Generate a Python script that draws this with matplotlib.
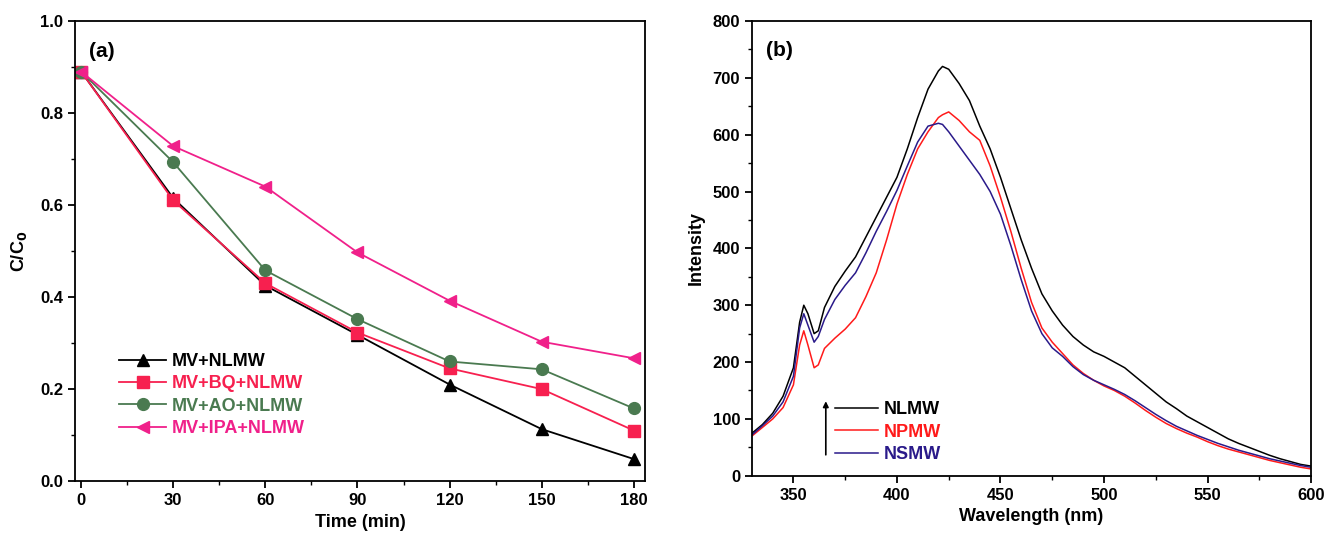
import matplotlib.pyplot as plt
from matplotlib.ticker import MultipleLocator

# --- DATA: panel (a) degradation ---
TIME = [0, 30, 60, 90, 120, 150, 180]
MV_NLMW = [0.890, 0.615, 0.425, 0.318, 0.210, 0.113, 0.048]
MV_BQ = [0.890, 0.610, 0.430, 0.323, 0.245, 0.200, 0.110]
MV_AO = [0.890, 0.693, 0.458, 0.352, 0.260, 0.243, 0.158]
MV_IPA = [0.890, 0.728, 0.640, 0.497, 0.392, 0.303, 0.267]

# --- DATA: panel (b) PL spectra ---
WL = [330, 335, 340, 345, 350, 353, 355, 357, 360, 362, 365, 370, 375, 380,
      385, 390, 395, 400, 405, 410, 415, 420, 422, 425, 430, 435, 440, 445,
      450, 455, 460, 465, 470, 475, 480, 485, 490, 495, 500, 505, 510, 515,
      520, 525, 530, 535, 540, 545, 550, 555, 560, 565, 570, 575, 580, 585,
      590, 595, 600]
NLMW = [75, 90, 110, 140, 190, 270, 300, 285, 250, 255, 296, 333, 360, 385,
        420, 455, 490, 525, 575, 630, 680, 712, 720, 715, 690, 660, 615, 575,
        525, 470, 415, 365, 320, 290, 265, 245, 230, 218, 210, 200, 190, 175,
        160, 145, 130, 118, 105, 95, 85, 75, 65, 57, 50, 43, 36, 30,
        25, 20, 17]
NPMW = [70, 85, 100, 120, 160, 230, 255, 230, 190, 195, 224, 242, 258, 278,
        315, 357, 415, 478, 530, 575, 605, 630, 635, 640, 625, 605, 590, 545,
        490, 430, 365, 305, 260, 235, 215, 195, 180, 168, 158, 150, 140, 128,
        115, 103, 92, 83, 75, 68, 60, 53, 47, 42, 37, 32, 27, 23,
        19, 15, 12]
NSMW = [72, 88, 105, 130, 175, 260, 285, 265, 235, 245, 275, 310, 335, 357,
        392, 430, 465, 502, 545, 587, 615, 620, 618, 605, 580, 555, 530, 500,
        460, 405, 345, 290, 250, 225, 210, 192, 178, 168, 160, 152, 143, 132,
        120, 108, 97, 87, 79, 71, 64, 57, 51, 45, 40, 35, 30, 26,
        22, 18, 15]

plt.rcParams['font.family'] = ['Liberation Sans Narrow', 'Liberation Sans', 'DejaVu Sans']
plt.rcParams['font.weight'] = 'bold'

fig = plt.figure(figsize=(13.27, 5.37), dpi=100)
ax1 = fig.add_axes([0.0565, 0.104, 0.4295, 0.857])
ax2 = fig.add_axes([0.5667, 0.114, 0.4213, 0.847])


def style_axis(ax):
    for s in ax.spines.values():
        s.set_linewidth(1.3)
    ax.tick_params(which='major', direction='out', length=5, width=1.3,
                   labelsize=12, top=False, right=False)
    ax.tick_params(which='minor', direction='out', length=3, width=1.0,
                   top=False, right=False)
    for lab in ax.get_xticklabels() + ax.get_yticklabels():
        lab.set_fontweight('bold')


# Panel (a)
series = [
    (MV_NLMW, 'MV+NLMW', 'black', '^'),
    (MV_BQ, 'MV+BQ+NLMW', '#f7204f', 's'),
    (MV_AO, 'MV+AO+NLMW', '#4a7a50', 'o'),
    (MV_IPA, 'MV+IPA+NLMW', '#f0208a', '<'),
]
for y, lab, c, m in series:
    ax1.plot(TIME, y, color=c, marker=m, markersize=8.5, linewidth=1.3, label=lab)
ax1.set_xlim(-2, 183.6)
ax1.set_ylim(0, 1.0)
ax1.set_xticks(TIME)
ax1.xaxis.set_minor_locator(MultipleLocator(15))
ax1.yaxis.set_major_locator(MultipleLocator(0.2))
ax1.yaxis.set_minor_locator(MultipleLocator(0.1))
ax1.yaxis.set_major_formatter(plt.FormatStrFormatter('%.1f'))
style_axis(ax1)
ax1.set_xlabel('Time (min)', fontsize=13, fontweight='bold', labelpad=4)
ax1.set_ylabel('C/C$_\\mathbf{0}$', fontsize=13, fontweight='bold', labelpad=8)
ax1.text(0.025, 0.955, '(a)', transform=ax1.transAxes, fontsize=15,
         fontweight='bold', va='top')
leg1 = ax1.legend(loc='lower left', bbox_to_anchor=(0.065, 0.08), frameon=False,
                  fontsize=13, handlelength=2.6, handletextpad=0.3,
                  labelspacing=0.3, borderaxespad=0)
for txt, (_, _, c, _) in zip(leg1.get_texts(), series):
    txt.set_color(c)
    txt.set_fontweight('bold')

# Panel (b)
spectra = [
    (NLMW, 'NLMW', 'black'),
    (NPMW, 'NPMW', '#ff1a1a'),
    (NSMW, 'NSMW', '#2a1a8a'),
]
for y, lab, c in spectra:
    ax2.plot(WL, y, color=c, linewidth=1.1, label=lab)
ax2.set_xlim(330, 600)
ax2.set_ylim(0, 800)
ax2.xaxis.set_major_locator(MultipleLocator(50))
ax2.xaxis.set_minor_locator(MultipleLocator(25))
ax2.yaxis.set_major_locator(MultipleLocator(100))
ax2.yaxis.set_minor_locator(MultipleLocator(50))
style_axis(ax2)
ax2.set_xlabel('Wavelength (nm)', fontsize=13, fontweight='bold', labelpad=4)
ax2.set_ylabel('Intensity', fontsize=13, fontweight='bold', labelpad=6)
ax2.text(0.025, 0.955, '(b)', transform=ax2.transAxes, fontsize=15,
         fontweight='bold', va='top')
leg2 = ax2.legend(loc='lower left', bbox_to_anchor=(0.135, 0.012), frameon=False,
                  fontsize=13, handlelength=2.4, handletextpad=0.3,
                  labelspacing=0.3, borderaxespad=0)
for txt, (_, _, c) in zip(leg2.get_texts(), spectra):
    txt.set_color(c)
    txt.set_fontweight('bold')
ax2.annotate('', xy=(0.132, 0.17), xytext=(0.132, 0.04),
             xycoords='axes fraction',
             arrowprops=dict(arrowstyle='-|>', color='black', lw=1.2,
                             mutation_scale=8))

fig.savefig('out.png', dpi=100)
